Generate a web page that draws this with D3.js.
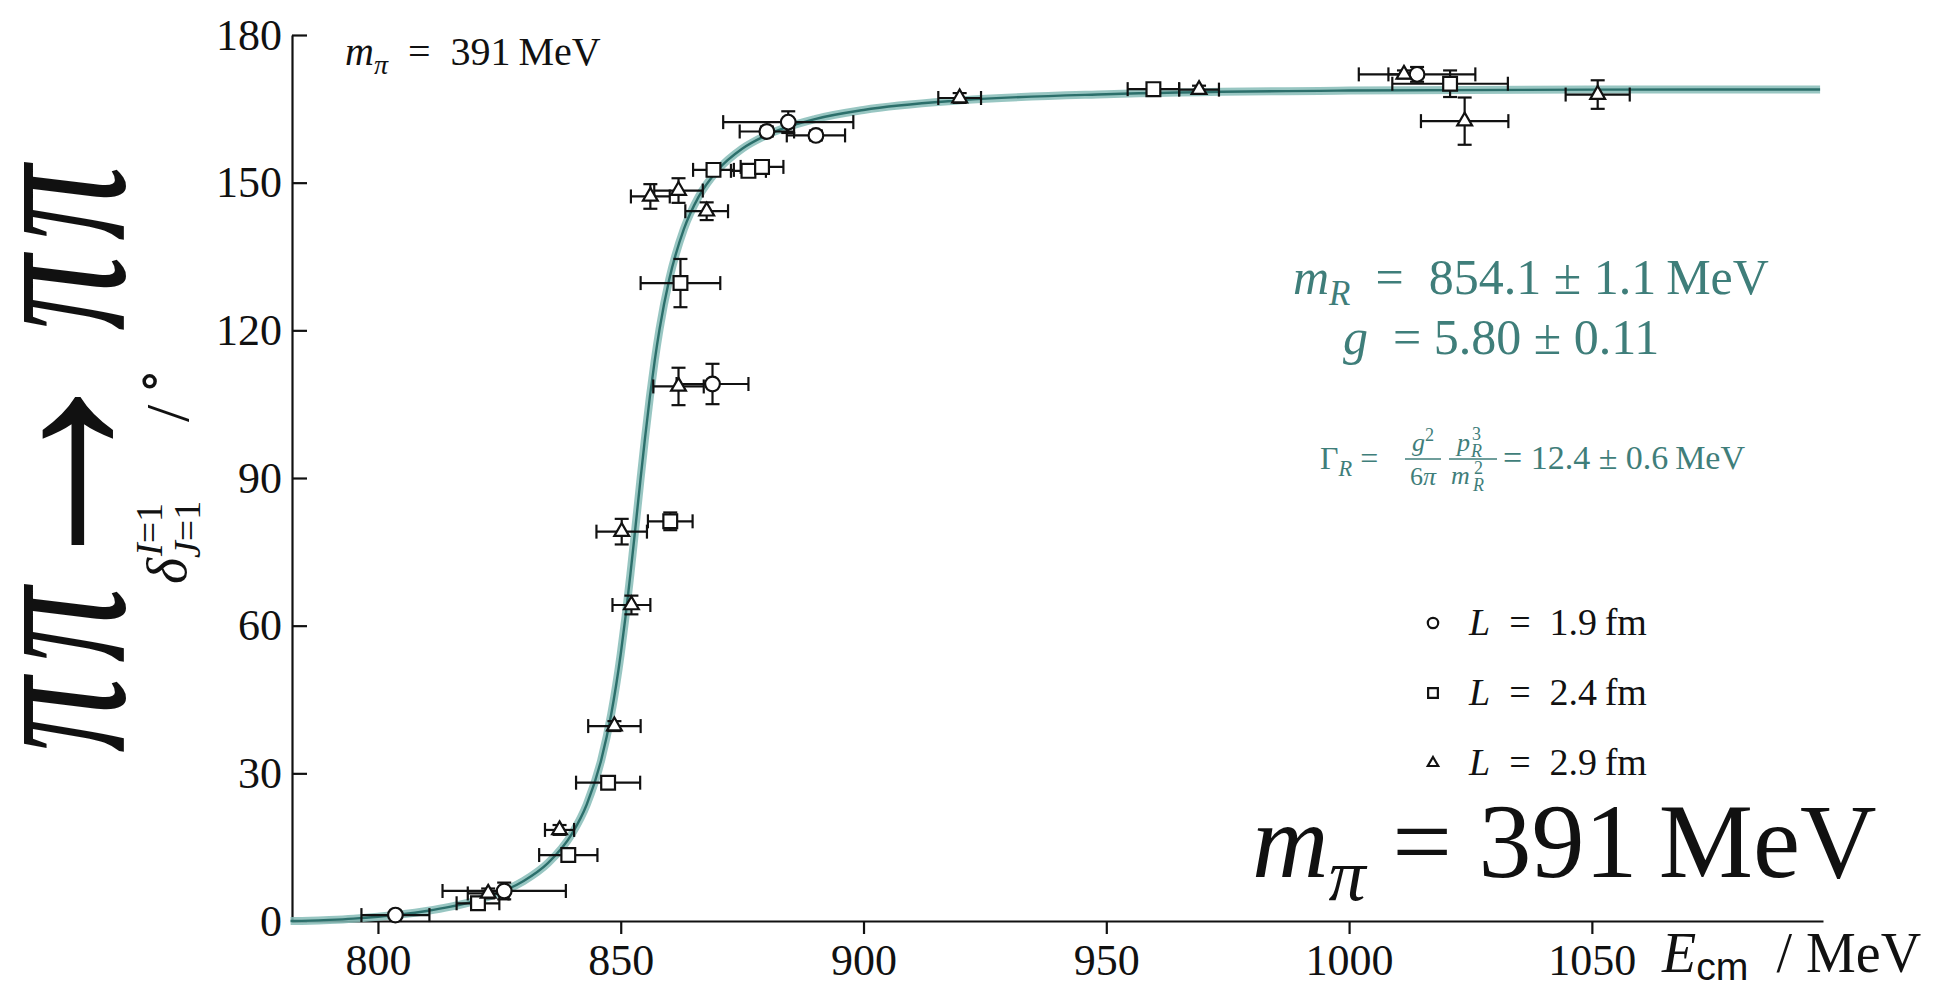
<!DOCTYPE html>
<html>
<head>
<meta charset="utf-8">
<script src="https://cdn.jsdelivr.net/npm/d3@7"></script>
<style>
  html, body { margin: 0; padding: 0; background: #fff; }
  svg { display: block; }
</style>
</head>
<body>
<svg id="chart" width="1938" height="997"></svg>
<script>
// ---- fitted phase-shift curve (centre-of-mass energy in MeV, phase in degrees)
const curveEnergy = [782, 786, 790, 795, 800, 805, 810, 815, 820, 825, 830, 835, 840, 843, 846, 848,
  850, 851, 852, 853, 854, 855, 856, 857, 858, 860, 863, 866, 870, 875, 880, 890, 900, 920, 950, 1000, 1050, 1097];
const curvePhase = [0, 0.07, 0.22, 0.48, 0.86, 1.36, 2.03, 2.91, 4.10, 5.74, 8.12, 11.74, 17.79, 23.67, 32.78, 41.8,
  54.24, 61.93, 70.52, 79.71, 89.07, 98.12, 106.46, 113.86, 120.27, 130.38, 140.55, 147.05, 152.59, 156.89, 159.64, 162.92, 164.77, 166.72, 167.97, 168.71, 168.91, 168.94];

// ---- lattice levels, L = 1.9 fm (circles)
const energyL19 = [803.6, 826.0, 868.9, 880.1, 884.5, 890.2, 1014.0];
const energyErrL19 = [7.0, 12.7, 7.4, 5.6, 13.4, 6.0, 12.0];
const phaseL19 = [1.2, 6.1, 109.1, 160.4, 162.3, 159.6, 172.0];
const phaseErrL19 = [0.5, 1.7, 4.1, 1.0, 2.2, 1.0, 1.5];

// ---- lattice levels, L = 2.4 fm (squares)
const energyL24 = [820.6, 839.2, 847.4, 860.2, 862.3, 869.1, 876.3, 879.1, 959.7, 1020.8];
const energyErrL24 = [4.4, 6.0, 6.6, 4.6, 8.2, 4.2, 3.6, 4.4, 5.3, 11.9];
const phaseL24 = [3.6, 13.4, 28.1, 81.2, 129.6, 152.6, 152.4, 153.2, 169.0, 170.1];
const phaseErrL24 = [1.0, 1.0, 1.0, 1.8, 4.9, 1.0, 1.0, 1.0, 0.8, 2.7];

// ---- lattice levels, L = 2.9 fm (triangles)
const energyL29 = [822.7, 837.4, 848.7, 852.2, 850.2, 861.9, 856.1, 861.9, 867.7, 919.8, 969.1, 1011.3, 1023.8, 1051.2];
const energyErrL29 = [4.2, 3.0, 5.4, 3.9, 5.2, 5.2, 4.0, 5.0, 4.4, 4.4, 4.1, 3.2, 9.0, 6.6];
const phaseL29 = [5.6, 18.5, 39.6, 64.2, 79.1, 108.6, 147.2, 148.4, 144.2, 167.2, 168.9, 172.0, 162.5, 167.9];
const phaseErrL29 = [1.0, 1.0, 1.0, 1.9, 2.6, 3.8, 2.5, 2.5, 1.8, 1.0, 0.8, 0.8, 4.8, 2.9];

// ---- axes and legend text
const xTicks = [800, 850, 900, 950, 1000, 1050];
const yTicks = [0, 30, 60, 90, 120, 150, 180];
const boxSizes = ["1.9", "2.4", "2.9"];

const SERIF = "'Liberation Serif','DejaVu Serif',serif";
const SANS = "'Liberation Sans','DejaVu Sans',sans-serif";
const TEAL = "#3f7e7a";
const INK = "#111";

const svg = d3.select("#chart");

const x = d3.scaleLinear().domain([782.3, 1097.6]).range([292, 1823]);
const y = d3.scaleLinear().domain([0, 180]).range([921, 35]);

// ---- axes
const xAxis = svg.append("g")
  .attr("transform", `translate(0,${y(0)})`)
  .call(d3.axisBottom(x).tickValues(xTicks).tickFormat(d3.format("d"))
    .tickSize(13).tickSizeOuter(0).tickPadding(10));
const yAxis = svg.append("g")
  .attr("transform", `translate(${x.range()[0]},0)`)
  .call(d3.axisLeft(y).tickValues(yTicks).tickFormat(d3.format("d"))
    .tickSize(-15).tickSizeOuter(0).tickPadding(10));
[xAxis, yAxis].forEach(a => {
  a.select(".domain").attr("stroke", INK).attr("stroke-width", 2.2);
  a.selectAll(".tick line").attr("stroke", INK).attr("stroke-width", 2.2);
  a.selectAll(".tick text").attr("font-family", SERIF).attr("font-size", 44).attr("fill", INK);
});

// ---- fitted curve with its uncertainty band
const line = d3.line()
  .x((d, i) => x(curveEnergy[i]))
  .y(d => y(d))
  .curve(d3.curveMonotoneX);
svg.append("path").attr("d", line(curvePhase))
  .attr("fill", "none").attr("stroke", "#86bcb7").attr("stroke-opacity", 0.85)
  .attr("stroke-width", 8).attr("stroke-linejoin", "round");
svg.append("path").attr("d", line(curvePhase))
  .attr("fill", "none").attr("stroke", "#2c6f6b").attr("stroke-width", 2.4);

// ---- data with error bars
const CAP = 7;
const series = [
  { e: energyL19, de: energyErrL19, p: phaseL19, dp: phaseErrL19, shape: d3.symbolCircle, size: 170 },
  { e: energyL24, de: energyErrL24, p: phaseL24, dp: phaseErrL24, shape: d3.symbolSquare, size: 190 },
  { e: energyL29, de: energyErrL29, p: phaseL29, dp: phaseErrL29, shape: d3.symbolTriangle, size: 95 }
];

const bars = svg.append("g").attr("stroke", INK).attr("stroke-width", 2.2).attr("fill", "none");
series.forEach(s => {
  s.e.forEach((e, i) => {
    const cx = x(e), cy = y(s.p[i]);
    const x0 = x(e - s.de[i]), x1 = x(e + s.de[i]);
    const y0 = y(s.p[i] - s.dp[i]), y1 = y(s.p[i] + s.dp[i]);
    bars.append("line").attr("x1", x0).attr("x2", x1).attr("y1", cy).attr("y2", cy);
    bars.append("line").attr("x1", x0).attr("x2", x0).attr("y1", cy - CAP).attr("y2", cy + CAP);
    bars.append("line").attr("x1", x1).attr("x2", x1).attr("y1", cy - CAP).attr("y2", cy + CAP);
    bars.append("line").attr("x1", cx).attr("x2", cx).attr("y1", y0).attr("y2", y1);
    bars.append("line").attr("x1", cx - CAP).attr("x2", cx + CAP).attr("y1", y0).attr("y2", y0);
    bars.append("line").attr("x1", cx - CAP).attr("x2", cx + CAP).attr("y1", y1).attr("y2", y1);
  });
});
const marks = svg.append("g");
series.forEach(s => {
  marks.selectAll(null).data(s.e).enter().append("path")
    .attr("d", d3.symbol().type(s.shape).size(s.size))
    .attr("transform", (e, i) => `translate(${x(e)},${y(s.p[i])})`)
    .attr("fill", "#fff").attr("stroke", INK).attr("stroke-width", 2.2);
});

// ---- helper for inline math-like text (italic symbols, sub/superscripts)
function mathText(parent, px, py, size, color, parts, anchor) {
  const t = parent.append("text").attr("x", px).attr("y", py)
    .attr("font-family", SERIF).attr("font-size", size).attr("fill", color)
    .attr("text-anchor", anchor || "start");
  let shift = 0;
  parts.forEach(p => {
    const s = p.sub ? (p.drop || 0.22) * size : p.sup ? -0.4 * size : 0;
    const fs = (p.sub || p.sup) ? size * 0.7 : size;
    const span = t.append("tspan").attr("dy", s - shift).attr("font-size", fs).text(p.t);
    if (p.it) span.attr("font-style", "italic");
    if (p.fam) span.attr("font-family", p.fam);
    if (p.dx) span.attr("dx", p.dx);
    shift = s;
  });
  return t;
}
const SP = "\u00a0";        // space around relations
const SP2 = "\u00a0\u00a0"; // wider relation space
const TH = "\u2009";        // thin space before units

// pion mass tag, top left
mathText(svg, 345, 65, 40, INK, [
  { t: "m", it: true }, { t: "π", it: true, sub: true }, { t: SP2 + "=" + SP2 + "391" + TH + "MeV" }
]);

// fit results
mathText(svg, 1293, 294, 50, TEAL, [
  { t: "m", it: true }, { t: "R", it: true, sub: true },
  { t: SP2 + "=" + SP2 + "854.1" + SP + "±" + SP + "1.1" + TH + "MeV" }
]);
mathText(svg, 1343, 354, 50, TEAL, [
  { t: "g", it: true }, { t: SP2 + "=" + SP + "5.80" + SP + "±" + SP + "0.11" }
]);

// width formula
const wf = svg.append("g").attr("fill", TEAL).attr("font-family", SERIF);
mathText(wf, 1320, 469, 32, TEAL, [
  { t: "Γ" }, { t: "R", it: true, sub: true }, { t: "\u00a0=" }
]);
wf.append("line").attr("x1", 1405).attr("x2", 1441).attr("y1", 459).attr("y2", 459)
  .attr("stroke", TEAL).attr("stroke-width", 1.5);
wf.append("line").attr("x1", 1449).attr("x2", 1497).attr("y1", 459).attr("y2", 459)
  .attr("stroke", TEAL).attr("stroke-width", 1.5);
mathText(wf, 1412, 451, 26, TEAL, [{ t: "g", it: true }, { t: "2", sup: true }]);
mathText(wf, 1423, 485, 26, TEAL, [{ t: "6" }, { t: "π", it: true }], "middle");
wf.append("text").attr("x", 1457).attr("y", 451).attr("font-size", 26).attr("font-style", "italic").text("p");
wf.append("text").attr("x", 1472).attr("y", 440).attr("font-size", 18).text("3");
wf.append("text").attr("x", 1471).attr("y", 457).attr("font-size", 18).attr("font-style", "italic").text("R");
wf.append("text").attr("x", 1451).attr("y", 484).attr("font-size", 26).attr("font-style", "italic").text("m");
wf.append("text").attr("x", 1474).attr("y", 474).attr("font-size", 18).text("2");
wf.append("text").attr("x", 1473).attr("y", 491).attr("font-size", 18).attr("font-style", "italic").text("R");
mathText(wf, 1503, 469, 34, TEAL, [{ t: "=" + SP + "12.4" + SP + "±" + SP + "0.6" + TH + "MeV" }]);

// legend
const legendY = [623, 693, 763];
series.forEach((s, i) => {
  svg.append("path").attr("d", d3.symbol().type(s.shape).size(s.size * 0.5))
    .attr("transform", `translate(1433,${legendY[i]})`)
    .attr("fill", "#fff").attr("stroke", INK).attr("stroke-width", 2.2);
  mathText(svg, 1469, legendY[i] + 12, 38, INK, [
    { t: "L", it: true }, { t: SP2 + "=" + SP2 + boxSizes[i] + TH + "fm" }
  ]);
});

// large pion mass label, bottom right
mathText(svg, 1252, 877, 106, INK, [
  { t: "m", it: true }, { t: "π", it: true, sub: true }, { t: SP + "=" + SP + "391" + TH + "MeV" }
]);

// x axis title
mathText(svg, 1662, 972, 56, INK, [
  { t: "E", it: true }, { t: "cm", sub: true, drop: 0.15, fam: SANS }, { t: SP2 + "/" + SP + "MeV" }
]);

// y axis title: delta^{I=1}_{J=1} / degrees
const yl = svg.append("g").attr("transform", "translate(186,476) rotate(-90)")
  .attr("font-family", SERIF).attr("fill", INK);
yl.append("text").attr("x", -108).attr("y", 0).attr("font-size", 56).attr("font-style", "italic").text("δ");
mathText(yl, -80, -24, 38, INK, [{ t: "I", it: true }, { t: "=1" }]);
mathText(yl, -82, 14, 38, INK, [{ t: "J", it: true }, { t: "=1" }]);
yl.append("text").attr("x", 54).attr("y", 2).attr("font-size", 62).text("/");
yl.append("text").attr("x", 82).attr("y", -20).attr("font-size", 52).text("∘");

// process title along the left edge
const pt = svg.append("g").attr("transform", "translate(124,459) rotate(-90) scale(1,1.45)")
  .attr("font-family", SERIF).attr("font-size", 150).attr("fill", INK).attr("text-anchor", "middle");
const glyphs = [
  { t: "π", at: -256 }, { t: "π", at: -166 },
  { t: "π", at: 166 }, { t: "π", at: 256 }
];
glyphs.forEach(gl => {
  pt.append("text").attr("x", gl.at).attr("y", 0).attr("font-style", "italic").text(gl.t);
});
svg.append("text").attr("transform", "translate(124,459) rotate(-90) scale(1,1.2)")
  .attr("x", -12).attr("y", 3).attr("text-anchor", "middle")
  .attr("font-family", SERIF).attr("font-size", 250).attr("fill", INK).text("→");
</script>
</body>
</html>
